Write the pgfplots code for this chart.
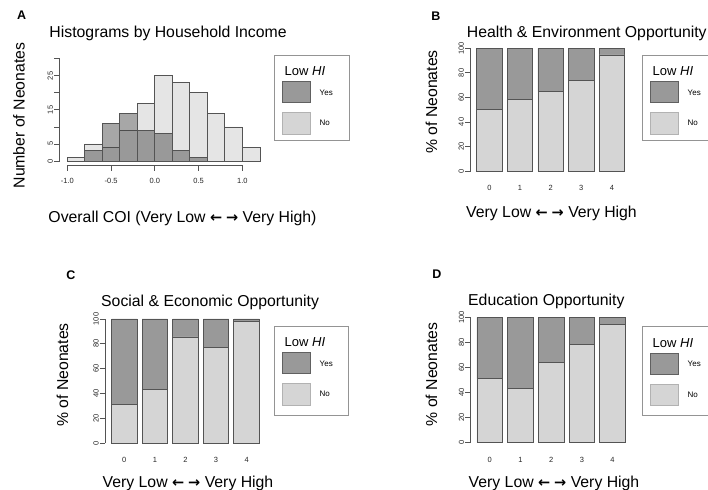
\documentclass[border=0pt]{standalone}
\usepackage{fontspec}
\setmainfont{Liberation Sans}
\newfontfamily\arrowfont{DejaVu Sans}
\usepackage{pgfplots}
\usepackage{pgfplotstable}
\pgfplotsset{compat=1.18}

\definecolor{histlight}{gray}{0.9}
\definecolor{histdark}{gray}{0.28}
\definecolor{barlight}{gray}{0.835}
\definecolor{bardark}{gray}{0.6}
\definecolor{edge}{gray}{0.33}
\definecolor{boxgray}{gray}{0.58}

\newcommand\tickfont{\fontsize{7.5bp}{8bp}\selectfont}
\newcommand\yesnofont{\fontsize{8bp}{9bp}\selectfont}
\newcommand\labfont{\fontsize{15.8bp}{18bp}\selectfont}
\newcommand\legfont{\fontsize{13bp}{15bp}\selectfont}
\newcommand\letfont{\fontsize{12.5bp}{14bp}\selectfont\bfseries}
\newcommand\arrows{{\arrowfont\bfseries\fontsize{14.5bp}{16bp}\selectfont ←\hspace{4bp}→}}

% share of neonates, No / Yes (low household income)
\pgfplotstableread{
x   no    yes
0.7 50.3  49.7
1.9 58.5  41.5
3.1 65.2  34.8
4.3 73.9  26.1
5.5 94.6  5.4
}\healthdata
\pgfplotstableread{
x   no    yes
0.7 31.2  68.8
1.9 43.3  56.7
3.1 85.5  14.5
4.3 77.4  22.6
5.5 97.8  2.2
}\socialdata
\pgfplotstableread{
x   no    yes
0.7 51.1  48.9
1.9 43.4  56.6
3.1 63.8  36.2
4.3 78.5  21.5
5.5 94.1  5.9
}\educdata

\pgfplotsset{
  rbase/.style={
    scale only axis, clip=false,
    axis x line*=bottom, axis y line*=left,
    axis line style={draw=none},
    tick align=outside, major tick length=5.5bp,
    tick style={edge, line width=0.8bp},
    ticklabel style={font=\tickfont, text=black!85},
    yticklabel style={rotate=90, anchor=south, inner sep=1bp},
    /pgf/number format/assume math mode=true,
  },
  rbar/.style={
    rbase, ybar stacked, bar width=1,
    xmin=-0.04, xmax=6.44, ymin=-4, ymax=104,
    xtick={0.7,1.9,3.1,4.3,5.5}, xticklabels={0,1,2,3,4},
    xtick style={draw=none}, xticklabel shift=0.5bp,
    ytick={0,20,...,100},
  },
}

\newcommand\hilegend[4]{% left, top, right, bottom
  \draw[boxgray, line width=0.7bp] (#1,#2) rectangle (#3,#4);
  \node[anchor=base west, inner sep=0, font=\legfont] at (#1+10.5,#2+20.5) {Low \textit{HI}};
  \draw[gray!75!black, fill=bardark, line width=0.5bp] (#1+8.3,#2+26.7) rectangle (#1+36.3,#2+47.7);
  \draw[gray!60, fill=barlight, line width=0.5bp] (#1+8.3,#2+57.7) rectangle (#1+36.3,#2+79);
  \node[anchor=west, inner sep=0, font=\yesnofont] at (#1+45.5,#2+37.5) {Yes};
  \node[anchor=west, inner sep=0, font=\yesnofont] at (#1+45.5,#2+68) {No};
}

\begin{document}
\begin{tikzpicture}[x=1bp, y=-1bp]
\useasboundingbox (0,0) rectangle (708,490);
\clip (0,0) rectangle (708,490);

% ---------- A: histograms
\begin{axis}[rbase, at={(59.6bp,-165bp)}, anchor=south west,
  width=208bp, height=110.2bp,
  xmin=-1.088, xmax=1.288, ymin=-1.2, ymax=31.2,
  xtick={-1,-0.5,0,0.5,1}, xticklabels={-1.0,-0.5,0.0,0.5,1.0},
  xticklabel shift=4.5bp,
  ytick={0,5,...,30}, yticklabels={0,5,,15,,25,}]
\addplot[ybar interval, fill=histlight, draw=edge, line width=0.8bp] coordinates {
  (-1.0,1) (-0.8,5) (-0.6,4) (-0.4,9) (-0.2,17) (0.0,25)
  (0.2,23) (0.4,20) (0.6,14) (0.8,10) (1.0,4) (1.2,0)};
\addplot[ybar interval, fill=histdark, fill opacity=0.48, draw=edge, line width=0.8bp] coordinates {
  (-0.8,3) (-0.6,11) (-0.4,14) (-0.2,9) (0.0,8) (0.2,3) (0.4,1) (0.6,0)};
\draw[edge, line width=0.8bp] (axis cs:-1.088,0) -- (axis cs:-1.088,30);
\draw[edge, line width=0.8bp] (axis cs:-1,-1.2) -- (axis cs:1,-1.2);
\end{axis}

% ---------- B: health & environment
\begin{axis}[rbar, at={(470.6bp,-175.9bp)}, anchor=south west, width=165.2bp, height=132.5bp]
\addplot[fill=barlight, draw=edge, line width=0.8bp] table[x=x, y=no] {\healthdata};
\addplot[fill=bardark, draw=edge, line width=0.8bp] table[x=x, y=yes] {\healthdata};
\draw[edge, line width=0.8bp] (axis cs:-0.04,0) -- (axis cs:-0.04,100);
\end{axis}

% ---------- C: social & economic
\begin{axis}[rbar, at={(105.4bp,-448bp)}, anchor=south west, width=165.2bp, height=134bp]
\addplot[fill=barlight, draw=edge, line width=0.8bp] table[x=x, y=no] {\socialdata};
\addplot[fill=bardark, draw=edge, line width=0.8bp] table[x=x, y=yes] {\socialdata};
\draw[edge, line width=0.8bp] (axis cs:-0.04,0) -- (axis cs:-0.04,100);
\end{axis}

% ---------- D: education
\begin{axis}[rbar, at={(470.8bp,-447.7bp)}, anchor=south west, width=165.8bp, height=135.4bp]
\addplot[fill=barlight, draw=edge, line width=0.8bp] table[x=x, y=no] {\educdata};
\addplot[fill=bardark, draw=edge, line width=0.8bp] table[x=x, y=yes] {\educdata};
\draw[edge, line width=0.8bp] (axis cs:-0.04,0) -- (axis cs:-0.04,100);
\end{axis}

% titles, letters, labels
\node[font=\letfont] at (21.7,15) {A};
\node[font=\letfont] at (436,16) {B};
\node[font=\letfont] at (71,275) {C};
\node[font=\letfont] at (437,274.5) {D};

\node[anchor=base west, inner sep=0, font=\labfont] at (49.3,37.3) {Histograms by Household Income};
\node[anchor=base west, inner sep=0, font=\labfont] at (466.7,37.7) {Health \& Environment Opportunity};
\node[anchor=base west, inner sep=0, font=\labfont] at (101,306.7) {Social \& Economic Opportunity};
\node[anchor=base west, inner sep=0, font=\labfont] at (468,305.7) {Education Opportunity};

\node[rotate=90, inner sep=0, font=\labfont] at (19,115.5) {Number of Neonates};
\node[rotate=90, inner sep=0, font=\labfont] at (431.5,102) {\% of Neonates};
\node[rotate=90, inner sep=0, font=\labfont] at (62.5,375) {\% of Neonates};
\node[rotate=90, inner sep=0, font=\labfont] at (431.5,374.5) {\% of Neonates};

\node[anchor=base, inner sep=0, font=\labfont] at (182.5,222.5) {Overall COI (Very Low \arrows{} Very High)};
\node[anchor=base, inner sep=0, font=\labfont] at (551.5,218) {Very Low \arrows{} Very High};
\node[anchor=base, inner sep=0, font=\labfont] at (188,487) {Very Low \arrows{} Very High};
\node[anchor=base, inner sep=0, font=\labfont] at (554,487) {Very Low \arrows{} Very High};

% legends
\hilegend{274}{55}{349.5}{140}
\hilegend{642}{55}{712}{140}
\hilegend{274}{326}{348}{415}
\hilegend{642}{326.5}{712}{415}
\end{tikzpicture}
\end{document}
